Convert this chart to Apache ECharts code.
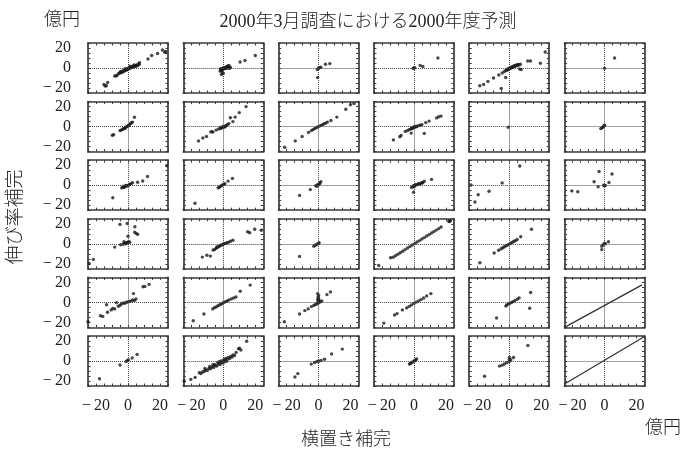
<!DOCTYPE html>
<html><head><meta charset="utf-8">
<script src="https://cdn.jsdelivr.net/npm/echarts@6/dist/echarts.min.js"></script>
<style>html,body{margin:0;padding:0;background:#fff}#c{width:681px;height:449px}</style>
</head><body><div id="c"></div>
<script>
// ---- axis settings (億円) ----
const axisMin = -25, axisMax = 25, tickStep = 5;
const tickLabels = {'-20':'−\u200920', '0':'0', '20':'20'};

// ---- text ----
const titleText = '2000年3月調査における2000年度予測';
const yName = '伸び率補完';
const xName = '横置き補完';
const unitText = '億円';

// ---- data: [横置き補完, 伸び率補完] for each panel (row r, column c) ----
const r1c1 = [[-15,-16.5],[-13.5,-17.8],[-12.7,-14.5],[-14.3,-18],[-8.3,-8],[-7.3,-7.9],[-7,-7.4],
  [-6,-5.8],[-5.2,-5],[-4.5,-4.8],[-4,-3.5],[-3.5,-4.2],[-3,-2.8],[-2.5,-3.2],[-2,-2],[-1.5,-1.5],[-1,-2.2],[-0.5,-0.8],[0,-1],[0.5,0],[1,-0.5],[1.5,0.8],[2,0.2],[2.5,1.5],[3,0.8],[3.5,2],[4,1.2],[4.5,2.5],[5,1.8],[5.5,3],[6,2.5],[6.5,4],[7,3.5],[7.2,5.2],[-4.8,-3.8],[-1.8,-0.6],[1.2,1.8],[3.8,3],
  [12.5,9],[14.8,12.5],[18.5,14.5],[21.5,18],[23,15.8],[23.5,16.5]];
const r1c2 = [[-2,-3],[-1.5,-2],[-1,-2.5],[-0.5,-1.5],[0,-1],[0.5,-0.5],[1,0],[1.5,0.5],[2,1],[2.5,1.5],[3,2],[3.5,2.5],[-1.8,-1],[-1,-0.5],[0,0],[1,-0.5],[2,-0.2],[3,0],[4,-0.3],[4.5,0.5],[-0.5,-4.5],[0,-5.5],[-1.2,-6.5],
  [10.5,6],[13.5,7.5],[20,12.5]];
const r1c3 = [[-0.8,-1.4],[0,-0.3],[0.5,0.3],[1.4,0.7],[4.3,3.7],[7,4.4],[-0.6,-9.5]];
const r1c4 = [[0,0],[-0.5,-0.5],[0.5,0.3],[3.9,2.6],[5.6,1.5],[15,10]];
const r1c5 = [[-18.4,-17.8],[-16,-16.4],[-13.3,-13.4],[-9.8,-10],[-6.5,-7],[-4.4,-5],[-3,-3.5],[-2,-2.5],[-1.5,-1.5],[-1,-2],[-0.5,-0.5],[0,-1],[0.5,0.2],[1,-0.3],[1.5,1],[2,0.5],[2.5,1.8],[3,1.2],[3.5,2.5],[4,2],[4.5,3],[5,2.5],[5.5,3.5],[6,3],[7,3.8],[6.5,-1],[7.5,-1.5],[-2.2,-9.5],[-5,-20.5],[11.6,7],[13.3,7],[19.5,4.8],[22.5,16]];
const r1c6 = [[0,-0.3],[6.3,10]];

const r2c1 = [[-9.8,-8.6],[-9,-8.2],[-5,-4],[-4.3,-3.5],[-3.5,-3],[-3,-2],[-2.3,-1.5],[-1.5,-1],[-1,0],[-0.3,0.5],[0.3,1.2],[1,2],[1.6,3],[2.2,3.8],[2.8,4.5],[4,9.3],[-2,-2],[0,0.5]];
const r2c2 = [[-15.5,-14.4],[-12.8,-11.4],[-10.5,-9.9],[-7.8,-5.3],[-7,-5],[-6.5,-5.5],[-4.5,-3.5],[-3,-2.5],[-2,-1.2],[-1.5,-2],[-1,-0.5],[0,-1],[0,0],[0.5,0.5],[1,-0.3],[1.5,0.5],[2,1],[2.5,1.8],[3.5,3],[4.4,8.8],[6,5],[7.4,9.5],[10,14],[14.2,20]];
const r2c3 = [[-21.2,-20.7],[-14.6,-14.3],[-10.3,-9.9],[-6.3,-5.8],[-4.5,-4],[-3.5,-3],[-2.5,-2],[-1.5,-1.2],[-0.5,-0.3],[0.5,0.5],[1.5,1.2],[2.5,2],[3.5,2.8],[4.5,3.5],[5.5,4.5],[7.7,6.1],[11.4,9.5],[17,17.3],[19.9,21.8],[22.1,23]];
const r2c4 = [[-12.8,-13.3],[-8.8,-10.2],[-8,-8.8],[-5.4,-4.8],[-4,-4],[-3,-3],[-2,-2.5],[-1.5,-1.5],[-1,-2],[-0.5,-0.5],[0,-1],[0.5,0],[1,-0.5],[1.5,0.5],[2,0],[3,1],[4,1.5],[5,2],[-1.7,-6.5],[6.5,-6.8],[7.4,4],[9.5,5.5],[14.2,8.7],[17,10.5],[15.5,9.8]];
const r2c5 = [[-0.6,-0.7]];
const r2c6 = [[-2.3,-2],[-1.5,-1.2],[-1,-0.5],[-0.5,0.3],[0,1],[0,1.5]];

const r3c1 = [[-9.5,-12.5],[-3.9,-2.7],[-3.2,-2.2],[-2.5,-2],[-2,-1.5],[-1.3,-1],[-0.5,-0.5],[0.3,0],[1,0.8],[1.8,1.5],[2.8,2.4],[-3,-1.2],[-1.5,-0.2],[6,3],[9.2,4.2],[12.2,8.7],[24.2,19.5]];
const r3c2 = [[-17.7,-18],[-3.2,-2.7],[-2.5,-2],[-2,-1.2],[-1.2,-0.5],[-0.5,0.3],[0.3,1],[1,1.5],[3,4.1],[5.7,6.8]];
const r3c3 = [[-11.9,-10.2],[-5.2,-4.4],[-1.8,-0.5],[-0.5,0.8],[0.5,1.3],[1.4,3.4],[-1,-1],[0,0.5],[0.8,2.2]];
const r3c4 = [[-1.5,-2.2],[-0.5,-1.2],[0.5,-0.5],[1,0.5],[1.5,0.3],[2.5,0.8],[3,1.8],[3.5,1.2],[4.5,1.8],[5,2.8],[5.5,2.5],[6.5,4],[0,-1.5],[-0.3,-0.5],[-0.2,-7],[11,5.8]];
const r3c5 = [[-23.8,0.2],[-19.4,-9.5],[-21.4,-16.8],[-12.6,-6],[-4.4,2.3],[6.6,19.2]];
const r3c6 = [[-20.4,-5.7],[-16.7,-6.5],[-6.5,3.5],[-3.4,13.7],[-4,-1.6],[0,-0.5],[0.5,-0.3],[-0.5,0],[2.8,2.7],[4.7,11.2]];

const r4c1 = [[-24.3,-19.6],[-21.7,-15.6],[-8.3,-3.3],[-4.6,-1],[-3,-0.5],[-2,0.5],[-1,1],[0,1.5],[1,1.5],[-1.5,0],[-0.5,0.8],[0.5,2],[0,7.5],[-5,19.4],[-0.5,20.3],[4.3,17],[4.2,11.5],[5.2,10.2],[6,9.5],[-2.5,2]];
const r4c2 = [[-13.1,-13.3],[-10.3,-11.4],[-8.1,-12.3],[-6.4,-6.2],[-5.4,-5.8],[-4.5,-4.5],[-4,-3.2],[-3.5,-3.5],[-2.5,-2.5],[-2,-1.8],[-1.5,-1.5],[-0.5,-0.8],[0,-0.3],[0.5,0],[1.5,0.5],[2.5,1],[3.4,1.7],[4.5,2.5],[6,3.5],[15.2,12],[16.5,11],[19.6,14.5],[23.7,13.5]];
const r4c3 = [[-11.9,-12.6],[-3,-2.4],[-2,-1.5],[-1,-0.5],[0,0.3],[0.3,1]];
const r4c4 = [[-22,-21.7],[-14.6,-14],[-13,-13.5],[-11.5,-12],[-10,-10.5],[-8.5,-9],[-7,-7.5],[-5.5,-5.8],[-4,-4.2],[-2.5,-2.8],[-1,-1.2],[0.5,0.3],[2,1.8],[3.5,3.2],[5,4.8],[6.5,6.2],[8,7.8],[9.5,9.2],[11,10.8],[12.5,12.2],[14,13.7],[15.5,15.2],[17,16.8],[21.8,22.6],[22.8,23.1],[22.3,22.3]];
const r4c5 = [[-18.3,-19],[-9.4,-9.2],[-6.6,-6.5],[-5,-5],[-4,-4],[-3,-3],[-2,-2],[-1,-1.2],[0,-0.3],[1,0.5],[2,1.5],[3,2.5],[4,3.2],[5,4.4],[7.2,7.1],[13.9,14.6]];
const r4c6 = [[-1.7,-2.4],[-0.8,-1],[0.5,0],[0,0.5],[2.5,2],[-1.7,-5.8]];

const r5c1 = [[-25,-19.4],[-17.2,-13.3],[-15.8,-14],[-12.8,-9.9],[-10.5,-7.5],[-8.3,-6.5],[-13.4,-2.4],[-7.2,-0.3],[-5,-2.8],[-4,-1.5],[-3,-0.5],[-2,-0.8],[-1,0.2],[0,0.5],[1,1],[2,1.5],[3,2.5],[4,2],[5,3.5],[3.4,8.8],[9.4,15.6],[10.5,16],[13.2,18],[-6,-3.8],[-9.5,-6]];
const r5c2 = [[-18.8,-18.4],[-12.1,-11.6],[-6.6,-6.5],[-5.5,-5.2],[-4.5,-4.5],[-3.5,-3.5],[-2.5,-2.5],[-1.5,-1.8],[-0.5,-0.8],[0.5,0],[1.5,0.8],[2.5,1.5],[3.5,2.5],[5,3.5],[6.5,4.5],[7.9,5.4],[10.6,11.2],[16.8,17.3]];
const r5c3 = [[-21.4,-19.4],[-11.9,-11.6],[-8.6,-8.2],[-6.5,-6.5],[-4.5,-4.2],[-3,-3],[-2,-2],[-1,-1.5],[0,-0.5],[-0.5,0.5],[0.5,1],[1,0.5],[2,1.5],[0,2.5],[0,4],[-0.3,5.4],[-0.6,8.8],[0,7],[-0.5,3],[5.2,7.8],[7.4,10.5]];
const r5c4 = [[-18.8,-20.7],[-12.1,-12.6],[-10.5,-11.2],[-7.2,-7.5],[-4.5,-5.5],[-3,-4],[-1.5,-2.5],[0,-1],[1.5,0.3],[3,1.5],[4.5,2.8],[6.1,4.4],[8,6.5],[10.6,8.8]];
const r5c5 = [[-7.9,-15.6],[-2.1,-3.7],[-1.5,-2.5],[-0.5,-1.5],[0.5,-0.8],[1.5,0],[2.5,0.8],[3.5,1.8],[5,3.1],[6.2,4.5],[13.4,9.9],[12.8,-5.8]];
const r5c6 = [[-25,-25],[23.5,17.5]];

const r6c1 = [[-17.8,-17.8],[-5,-4],[-1.2,-0.5],[-0.3,0.5],[0.3,1],[2.6,3],[5.7,6.6]];
const r6c2 = [[-24.5,-20],[-20.3,-18.4],[-17.6,-16.4],[-15,-11.8],[-14,-12.5],[-13,-11],[-12,-10.5],[-11,-9],[-10,-9.5],[-9,-7.5],[-8,-7.8],[-7,-6],[-6,-6.5],[-5,-4.5],[-4,-5],[-3,-3],[-2,-3.5],[-1,-1.5],[0,-2],[1,0],[2,-0.5],[-5.5,-3.5],[-3.5,-1.5],[-1.5,0],[0.5,1.5],[1.5,2.5],[2.5,1.5],[3,3.5],[4,2.5],[4.5,4.5],[5.5,4],[6,6],[7,5.5],[8,8.5],[9.5,12.2],[10.1,12.9],[11,11],[14.6,19.7],[-11.5,-7.5],[-8.5,-5.5],[-6.5,-3.8],[0,0.5],[-2.5,-0.8]];
const r6c3 = [[-14.8,-16],[-13,-12.6],[-4.6,-3.1],[-2.5,-1.5],[-1,-0.5],[0,-0.3],[1.5,0.5],[3.7,1.7],[8.1,7.1],[14.8,11.9]];
const r6c4 = [[-2.8,-3.1],[-1.8,-2],[-0.8,-1],[0.2,0],[1,1],[1.7,2],[-2.2,-2.5],[0.6,0.5]];
const r6c5 = [[-15.4,-15.3],[-6.1,-5.1],[-4.5,-4.2],[-3,-3],[-1.5,-1.8],[0,-0.5],[0.2,3.5],[1,1],[0,1.5],[2.7,3.5],[11.7,15.5]];
const r6c6 = [[-25,-23],[24.5,24]];

const panels = [
  [r1c1, r1c2, r1c3, r1c4, r1c5, r1c6],
  [r2c1, r2c2, r2c3, r2c4, r2c5, r2c6],
  [r3c1, r3c2, r3c3, r3c4, r3c5, r3c6],
  [r4c1, r4c2, r4c3, r4c4, r4c5, r4c6],
  [r5c1, r5c2, r5c3, r5c4, r5c5, r5c6],
  [r6c1, r6c2, r6c3, r6c4, r6c5, r6c6]
];
const linePanels = [r5c6, r6c6];

// ---- build chart ----
const FONT = '"Liberation Serif", "Noto Sans CJK JP", serif';
const JFONT = '"Noto Sans CJK JP", sans-serif';
const ink = '#222';
const frameColor = '#3a3a3a';
const chart = echarts.init(document.getElementById('c'), null, {renderer: 'canvas'});
const grids = [], xAxes = [], yAxes = [], series = [];

for (let r = 0; r < 6; r++) {
  for (let c = 0; c < 6; c++) {
    const gi = grids.length;
    grids.push({left: 88 + c * 95.3, top: 43 + r * 58.6, width: 80, height: 50});
    const base = () => ({
      type: 'value', min: axisMin, max: axisMax, interval: tickStep, gridIndex: gi,
      axisLine: {show: true, onZero: false, lineStyle: {color: frameColor, width: 1.7}},
      axisTick: {show: true, inside: true, length: 2.5, lineStyle: {color: frameColor, width: 1}},
      splitLine: {show: false}
    });
    const xi = xAxes.length;
    xAxes.push(Object.assign(base(), {position: 'bottom',
      axisLabel: {show: r === 5, formatter: v => tickLabels[String(v)] || '', fontFamily: FONT, fontSize: 16, color: ink, margin: 12}}));
    xAxes.push(Object.assign(base(), {position: 'top', axisLabel: {show: false}}));
    const yi = yAxes.length;
    yAxes.push(Object.assign(base(), {position: 'left',
      axisLabel: {show: c === 0, formatter: v => tickLabels[String(v)] || '', fontFamily: FONT, fontSize: 16, color: ink, margin: 17}}));
    yAxes.push(Object.assign(base(), {position: 'right', axisLabel: {show: false}}));

    const data = panels[r][c];
    const isLine = linePanels.includes(data);
    series.push({
      type: isLine ? 'line' : 'scatter',
      xAxisIndex: xi, yAxisIndex: yi,
      data: data,
      symbol: 'circle',
      symbolSize: 3.4,
      showSymbol: !isLine,
      itemStyle: {color: '#1a1a1a'},
      lineStyle: {color: '#333', width: 1.3},
      silent: true,
      markLine: {
        silent: true, symbol: ['none', 'none'], label: {show: false},
        lineStyle: {color: '#444', type: 'dotted', width: 1},
        data: [{xAxis: 0}, {yAxis: 0}]
      }
    });
  }
}

const graphics = [
  {type: 'text', x: 368, y: 22, style: {text: titleText, font: '300 18px ' + FONT, fill: ink, textAlign: 'center', textVerticalAlign: 'middle'}},
  {type: 'text', x: 62, y: 18, style: {text: unitText, font: '300 18px ' + JFONT, fill: ink, textAlign: 'center', textVerticalAlign: 'middle'}},
  {type: 'text', x: 14, y: 217, rotation: Math.PI / 2, style: {text: yName, font: '300 19px ' + JFONT, fill: ink, textAlign: 'center', textVerticalAlign: 'middle'}},
  {type: 'text', x: 346, y: 438, style: {text: xName, font: '300 18px ' + JFONT, fill: ink, textAlign: 'center', textVerticalAlign: 'middle'}},
  {type: 'text', x: 663, y: 426, style: {text: unitText, font: '300 18px ' + JFONT, fill: ink, textAlign: 'center', textVerticalAlign: 'middle'}}
];

chart.setOption({
  animation: false,
  backgroundColor: '#fff',
  grid: grids,
  xAxis: xAxes,
  yAxis: yAxes,
  series: series,
  graphic: graphics
});
</script>
</body></html>
